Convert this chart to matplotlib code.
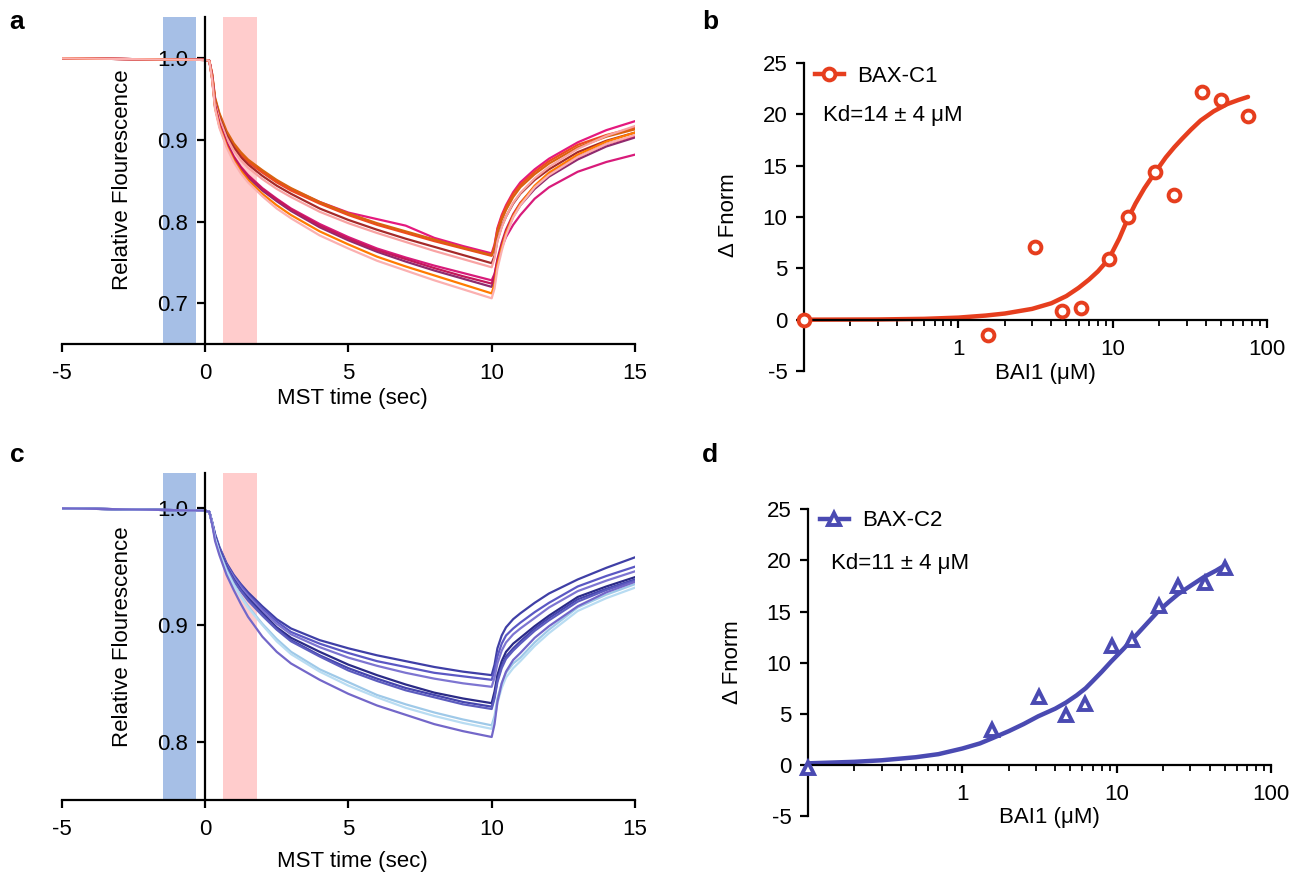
import numpy as np
import matplotlib
matplotlib.use("Agg")
import matplotlib.pyplot as plt
from matplotlib.lines import Line2D
from matplotlib.ticker import FixedLocator, NullFormatter

plt.rcParams['font.family'] = ['Liberation Sans', 'DejaVu Sans']
plt.rcParams['axes.unicode_minus'] = False

# ---------------- data ----------------
# MST time grid (sec)
T = [-5, -2.5, 0, 0.15, 0.25, 0.35, 0.5, 0.75, 1, 1.25, 1.5, 2, 2.5, 3, 4, 5,
     6, 7, 8, 9, 10, 10.1, 10.2, 10.35, 10.5, 10.75, 11, 11.5, 12, 13, 14, 15]

# panel a traces (BAX-C1)
a_colors = ['#e5197e', '#ef4a1f', '#d9620f', '#a52a2a', '#f9a3a3',
            '#d81b7a', '#8e2a6e', '#c2185b', '#ff7b00', '#fbb0b0']
a_traces = [
    [1.000, 0.999, 0.998, 0.997, 0.980, 0.950, 0.931, 0.909, 0.894, 0.883, 0.874, 0.861, 0.850, 0.840, 0.824, 0.811, 0.803, 0.795, 0.780, 0.770, 0.761, 0.772, 0.792, 0.808, 0.820, 0.836, 0.848, 0.864, 0.877, 0.897, 0.912, 0.923],
    [1.000, 0.999, 0.998, 0.997, 0.979, 0.949, 0.930, 0.908, 0.893, 0.882, 0.873, 0.860, 0.848, 0.838, 0.822, 0.808, 0.796, 0.786, 0.776, 0.767, 0.758, 0.770, 0.790, 0.806, 0.818, 0.834, 0.845, 0.861, 0.874, 0.894, 0.906, 0.915],
    [1.000, 0.999, 0.998, 0.997, 0.981, 0.952, 0.933, 0.911, 0.896, 0.885, 0.876, 0.863, 0.851, 0.841, 0.824, 0.810, 0.798, 0.788, 0.778, 0.768, 0.759, 0.768, 0.786, 0.802, 0.814, 0.830, 0.842, 0.858, 0.871, 0.891, 0.904, 0.913],
    [1.000, 0.999, 0.998, 0.997, 0.978, 0.947, 0.928, 0.906, 0.891, 0.879, 0.870, 0.856, 0.844, 0.834, 0.816, 0.802, 0.790, 0.779, 0.769, 0.759, 0.749, 0.758, 0.777, 0.794, 0.806, 0.822, 0.834, 0.851, 0.864, 0.885, 0.899, 0.909],
    [1.000, 0.999, 0.998, 0.997, 0.977, 0.945, 0.926, 0.903, 0.887, 0.875, 0.866, 0.852, 0.840, 0.830, 0.812, 0.798, 0.786, 0.775, 0.764, 0.754, 0.744, 0.755, 0.776, 0.793, 0.806, 0.823, 0.835, 0.853, 0.867, 0.889, 0.905, 0.917],
    [1.000, 0.999, 0.998, 0.997, 0.976, 0.942, 0.920, 0.897, 0.880, 0.867, 0.857, 0.841, 0.828, 0.816, 0.797, 0.781, 0.767, 0.756, 0.746, 0.737, 0.728, 0.736, 0.752, 0.768, 0.781, 0.796, 0.808, 0.828, 0.842, 0.861, 0.873, 0.882],
    [1.000, 0.999, 0.998, 0.997, 0.975, 0.941, 0.919, 0.895, 0.878, 0.865, 0.854, 0.838, 0.825, 0.813, 0.793, 0.777, 0.763, 0.751, 0.740, 0.730, 0.720, 0.730, 0.750, 0.770, 0.786, 0.806, 0.820, 0.840, 0.855, 0.876, 0.892, 0.903],
    [1.000, 0.999, 0.998, 0.997, 0.975, 0.941, 0.919, 0.896, 0.879, 0.866, 0.856, 0.840, 0.827, 0.815, 0.795, 0.779, 0.765, 0.754, 0.743, 0.733, 0.724, 0.734, 0.754, 0.774, 0.790, 0.809, 0.823, 0.843, 0.858, 0.879, 0.895, 0.905],
    [1.000, 0.999, 0.998, 0.997, 0.974, 0.939, 0.917, 0.893, 0.875, 0.862, 0.851, 0.834, 0.820, 0.808, 0.788, 0.772, 0.757, 0.745, 0.734, 0.723, 0.712, 0.724, 0.747, 0.768, 0.786, 0.807, 0.822, 0.844, 0.860, 0.882, 0.898, 0.909],
    [1.000, 0.999, 0.998, 0.997, 0.973, 0.938, 0.915, 0.891, 0.873, 0.859, 0.848, 0.831, 0.816, 0.804, 0.783, 0.767, 0.752, 0.740, 0.728, 0.717, 0.706, 0.718, 0.742, 0.764, 0.783, 0.805, 0.820, 0.842, 0.857, 0.879, 0.895, 0.906],
]

# panel c traces (BAX-C2)
c_colors = ['#3f3fa6', '#5b58c4', '#7d75d1', '#2b2b87', '#4545ad',
            '#5c5cbf', '#9fc9e8', '#b8dcf2', '#7367c9']
c_traces = [
    [1.000, 0.999, 0.998, 0.997, 0.988, 0.978, 0.967, 0.953, 0.943, 0.935, 0.928, 0.916, 0.905, 0.897, 0.887, 0.880, 0.874, 0.869, 0.864, 0.860, 0.857, 0.866, 0.880, 0.891, 0.898, 0.905, 0.910, 0.919, 0.927, 0.939, 0.949, 0.958],
    [1.000, 0.999, 0.998, 0.997, 0.988, 0.977, 0.966, 0.952, 0.942, 0.934, 0.926, 0.914, 0.903, 0.894, 0.884, 0.876, 0.869, 0.864, 0.859, 0.856, 0.853, 0.861, 0.873, 0.884, 0.891, 0.897, 0.902, 0.911, 0.919, 0.933, 0.942, 0.950],
    [1.000, 0.999, 0.998, 0.997, 0.988, 0.977, 0.966, 0.951, 0.941, 0.932, 0.925, 0.912, 0.901, 0.892, 0.881, 0.872, 0.865, 0.859, 0.854, 0.850, 0.847, 0.855, 0.867, 0.878, 0.885, 0.892, 0.897, 0.906, 0.915, 0.929, 0.938, 0.946],
    [1.000, 0.999, 0.998, 0.997, 0.987, 0.976, 0.965, 0.950, 0.939, 0.930, 0.923, 0.910, 0.898, 0.889, 0.877, 0.866, 0.857, 0.849, 0.842, 0.837, 0.833, 0.843, 0.857, 0.869, 0.877, 0.884, 0.889, 0.899, 0.908, 0.924, 0.933, 0.941],
    [1.000, 0.999, 0.998, 0.997, 0.987, 0.976, 0.965, 0.950, 0.939, 0.930, 0.922, 0.909, 0.897, 0.887, 0.874, 0.863, 0.854, 0.846, 0.840, 0.834, 0.830, 0.839, 0.853, 0.865, 0.873, 0.880, 0.886, 0.897, 0.906, 0.922, 0.931, 0.939],
    [1.000, 0.999, 0.998, 0.997, 0.987, 0.975, 0.964, 0.949, 0.938, 0.929, 0.921, 0.908, 0.896, 0.886, 0.873, 0.861, 0.852, 0.844, 0.838, 0.832, 0.828, 0.837, 0.851, 0.863, 0.871, 0.878, 0.884, 0.895, 0.904, 0.920, 0.930, 0.938],
    [1.000, 0.999, 0.998, 0.997, 0.987, 0.974, 0.962, 0.947, 0.935, 0.925, 0.916, 0.901, 0.888, 0.877, 0.862, 0.851, 0.840, 0.832, 0.825, 0.819, 0.814, 0.822, 0.837, 0.850, 0.859, 0.867, 0.872, 0.885, 0.896, 0.915, 0.926, 0.935],
    [1.000, 0.999, 0.998, 0.997, 0.987, 0.974, 0.962, 0.946, 0.934, 0.924, 0.915, 0.900, 0.886, 0.875, 0.860, 0.848, 0.838, 0.829, 0.822, 0.816, 0.811, 0.819, 0.833, 0.846, 0.855, 0.863, 0.869, 0.882, 0.893, 0.912, 0.923, 0.932],
    [1.000, 0.999, 0.998, 0.997, 0.986, 0.972, 0.960, 0.943, 0.930, 0.918, 0.907, 0.890, 0.877, 0.867, 0.853, 0.841, 0.831, 0.823, 0.815, 0.809, 0.804, 0.815, 0.834, 0.850, 0.860, 0.870, 0.876, 0.889, 0.899, 0.916, 0.928, 0.937],
]

# shaded MST regions (sec)
cold_region = (-1.48, -0.31)
hot_region = (0.64, 1.83)

# panel b: BAX-C1 dose response
b_conc = [0, 1.56, 3.125, 4.69, 6.25, 9.375, 12.5, 18.75, 25, 37.5, 50, 75]
b_fnorm = [0.0, -1.5, 7.1, 0.8, 1.1, 5.9, 10.0, 14.4, 12.1, 22.2, 21.4, 19.8]
b_fit_x = [0.1, 0.3, 0.6, 1, 1.5, 2, 3, 4, 5, 6, 7, 8, 9.4, 11, 12.3, 14, 16,
           18.7, 22, 25, 28, 32, 37, 45, 55, 65, 75]
b_fit_y = [0.0, 0.02, 0.08, 0.2, 0.4, 0.6, 1.05, 1.6, 2.3, 3.1, 3.9, 4.7, 5.9,
           7.9, 9.6, 11.3, 12.8, 14.3, 15.8, 16.8, 17.6, 18.5, 19.4, 20.3, 21.0, 21.4, 21.7]

# panel d: BAX-C2 dose response
d_conc = [0, 1.56, 3.125, 4.69, 6.25, 9.375, 12.5, 18.75, 25, 37.5, 50]
d_fnorm = [-0.3, 3.4, 6.6, 4.9, 6.0, 11.6, 12.2, 15.5, 17.5, 17.8, 19.3]
d_fit_x = [0.1, 0.2, 0.3, 0.5, 0.7, 1, 1.3, 1.56, 2, 2.5, 3.1, 4, 4.7, 5.5, 6.3,
           7, 8, 9.2, 11, 12.5, 15, 18.5, 22, 25, 30, 37, 44, 50]
d_fit_y = [0.15, 0.3, 0.45, 0.75, 1.05, 1.6, 2.1, 2.6, 3.3, 4.0, 4.75, 5.5, 6.1,
           6.8, 7.5, 8.2, 9.1, 10.1, 11.3, 12.2, 13.5, 15.0, 16.0, 16.7, 17.5, 18.4, 19.0, 19.5]

t_ticks = [-5, 0, 5, 10, 15]
x_log_ticks = [1, 10, 100]
fn_ticks = [-5, 0, 5, 10, 15, 20, 25]

RED = '#e63e1e'
BLUE = '#4a4ab2'
COLD = '#a6bfe6'
HOT = '#ffcccc'

# ---------------- figure ----------------
W, H = 1304, 873
fig = plt.figure(figsize=(W / 100, H / 100), dpi=100)


def px_axes(left, top, right, bottom):
    return fig.add_axes([left / W, 1 - bottom / H, (right - left) / W, (bottom - top) / H])


def ftext(x, y, s, **kw):
    fig.text(x / W, 1 - y / H, s, **kw)


FS = 16


def mst_panel(ax, traces, colors, ylim, yticks):
    ax.axvspan(*cold_region, color=COLD, lw=0, zorder=0)
    ax.axvspan(*hot_region, color=HOT, lw=0, zorder=0)
    for tr, col in zip(traces, colors):
        ax.plot(T, tr, color=col, lw=1.6, zorder=2, solid_joinstyle='round')
    ax.set_xlim(-5, 15)
    ax.set_ylim(*ylim)
    ax.spines['top'].set_visible(False)
    ax.spines['right'].set_visible(False)
    ax.spines['left'].set_position(('data', 0))
    for s in ('left', 'bottom'):
        ax.spines[s].set_linewidth(1.6)
        ax.spines[s].set_zorder(3)
    ax.set_xticks(t_ticks)
    ax.set_xticklabels([str(v) for v in t_ticks])
    ax.set_yticks(yticks)
    ax.set_yticklabels(['%.1f' % v for v in yticks])
    ax.tick_params(axis='both', labelsize=FS, width=1.6, length=6, direction='out')
    ax.tick_params(axis='x', pad=8)
    ax.tick_params(axis='y', pad=6)
    ax.patch.set_alpha(0)


def dose_panel(ax, conc, fn, fit_x, fit_y, color, marker):
    ax.set_xscale('log')
    ax.set_xlim(0.1, 100)
    ax.set_ylim(-5, 25)
    ax.plot(fit_x, fit_y, color=color, lw=3.2, zorder=2, solid_capstyle='round',
            solid_joinstyle='round')
    cx = [c if c > 0 else 0.1 for c in conc]
    ax.plot(cx, fn, ls='none', marker=marker, ms=8.5 if marker == 'o' else 9,
            mfc='white', mec=color, mew=2.8, zorder=4, clip_on=False)
    ax.spines['top'].set_visible(False)
    ax.spines['right'].set_visible(False)
    ax.spines['bottom'].set_position(('data', 0))
    for s in ('left', 'bottom'):
        ax.spines[s].set_linewidth(1.6)
        ax.spines[s].set_zorder(3)
    ax.xaxis.set_major_locator(FixedLocator(x_log_ticks))
    ax.set_xticklabels([str(v) for v in x_log_ticks])
    minors = [m * 10.0 ** e for e in (-1, 0, 1) for m in range(2, 10)]
    ax.xaxis.set_minor_locator(FixedLocator(minors))
    ax.xaxis.set_minor_formatter(NullFormatter())
    ax.set_yticks(fn_ticks)
    ax.set_yticklabels([str(v) for v in fn_ticks])
    ax.tick_params(axis='both', which='major', labelsize=FS, width=1.6, length=6, direction='out')
    ax.tick_params(axis='x', which='minor', width=1.3, length=4, direction='out')
    ax.tick_params(axis='x', which='major', pad=8)
    ax.tick_params(axis='y', pad=6)
    ax.patch.set_alpha(0)
    handle = Line2D([], [], color=color, lw=3.2, marker=marker, ms=8.5,
                    mfc='white', mec=color, mew=2.8)
    return handle


# panel a
ax_a = px_axes(61.7, 17.5, 635, 344)
mst_panel(ax_a, a_traces, a_colors, (0.65, 1.05), [0.7, 0.8, 0.9, 1.0])

# panel c
ax_c = px_axes(61.7, 473.3, 635, 800)
mst_panel(ax_c, c_traces, c_colors, (0.75, 1.03), [0.8, 0.9, 1.0])

# panel b
ax_b = px_axes(804, 63, 1267.3, 371)
hb = dose_panel(ax_b, b_conc, b_fnorm, b_fit_x, b_fit_y, RED, 'o')

# panel d
ax_d = px_axes(808, 509.3, 1271, 816)
hd = dose_panel(ax_d, d_conc, d_fnorm, d_fit_x, d_fit_y, BLUE, '^')

# legends
fig.legend([hb], ['BAX-C1'], loc='center left', bbox_to_anchor=(815 / W, 1 - 76 / H),
           frameon=False, fontsize=FS, handlelength=1.3, handletextpad=0.6,
           borderpad=0, borderaxespad=0)
fig.legend([hd], ['BAX-C2'], loc='center left', bbox_to_anchor=(820 / W, 1 - 521 / H),
           frameon=False, fontsize=FS, handlelength=1.3, handletextpad=0.6,
           borderpad=0, borderaxespad=0)

# Kd annotations
ftext(823, 115, 'Kd=14 \u00b1 4 \u03bcM', fontsize=FS, ha='left', va='center')
ftext(831, 563, 'Kd=11 \u00b1 4 \u03bcM', fontsize=FS, ha='left', va='center')

# axis labels
ftext(122, 180, 'Relative Flourescence', fontsize=FS, rotation=90, ha='center', va='center')
ftext(352, 399, 'MST time (sec)', fontsize=FS, ha='center', va='center')
ftext(122, 637, 'Relative Flourescence', fontsize=FS, rotation=90, ha='center', va='center')
ftext(352, 861, 'MST time (sec)', fontsize=FS, ha='center', va='center')
ftext(728, 215, '\u0394 Fnorm', fontsize=FS, rotation=90, ha='center', va='center')
ftext(1045, 373, 'BAI1 (\u03bcM)', fontsize=FS, ha='center', va='center')
ftext(733, 662, '\u0394 Fnorm', fontsize=FS, rotation=90, ha='center', va='center')
ftext(1049, 818, 'BAI1 (\u03bcM)', fontsize=FS, ha='center', va='center')

# panel letters
for letter, x, y in (('a', 17, 22), ('b', 710, 22), ('c', 17, 455), ('d', 710, 455)):
    ftext(x, y, letter, fontsize=19, fontweight='bold', ha='center', va='center')

fig.savefig('out.png', dpi=100)
